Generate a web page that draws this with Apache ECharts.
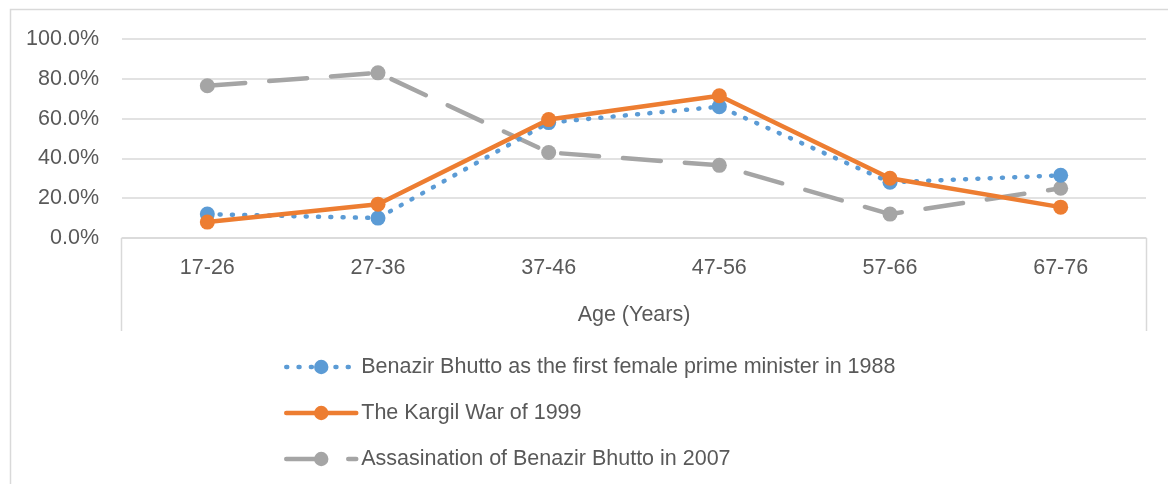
<!DOCTYPE html>
<html>
<head>
<meta charset="utf-8">
<script src="https://cdn.jsdelivr.net/npm/echarts@6/dist/echarts.min.js"></script>
<style>html,body{margin:0;padding:0;background:#fff}#c{width:1168px;height:484px}</style>
</head>
<body>
<div id="c"></div>
<script>
const categories = ['17-26', '27-36', '37-46', '47-56', '57-66', '67-76'];
const benazirPM1988 = [12, 10, 58, 66, 28, 31.5];
const kargilWar1999 = [8, 17, 59.5, 71.5, 30, 15.5];
const assassination2007 = [76.5, 83, 43, 36.5, 12, 25];
const seriesNames = [
  'Benazir Bhutto as the first female prime minister in 1988',
  'The Kargil War of 1999',
  'Assasination of Benazir Bhutto in 2007'
];
const xAxisTitle = 'Age (Years)';

const FONT = "'Liberation Sans', Arial, sans-serif";
const FS = 21.5;
const TXT = '#595959';
const BLUE = '#5B9BD5', ORANGE = '#ED7D31', GRAY = '#A5A5A5';
const styles = [
  {color: BLUE, width: 4.5, type: [1, 11.3], cap: 'round'},
  {color: ORANGE, width: 4.5, type: 'solid', cap: 'round'},
  {color: GRAY, width: 4.5, type: [38, 24], cap: 'round'}
];
const chart = echarts.init(document.getElementById('c'), null, {renderer: 'canvas'});
chart.setOption({
  animation: false,
  backgroundColor: '#fff',
  textStyle: {fontFamily: FONT, color: TXT},
  grid: {left: 122, right: 22, top: 39, bottom: 246},
  legend: {
    orient: 'vertical', left: 279, top: 351,
    itemWidth: 70, itemHeight: 18, itemGap: 24,
    textStyle: {fontFamily: FONT, fontSize: FS, color: TXT, padding: [0, 0, 0, 0]},
    data: seriesNames.map((n, i) => ({name: n, lineStyle: styles[i]}))
  },
  graphic: [
    {type: 'rect', silent: true, shape: {x: 10.5, y: 9.5, width: 1300, height: 600},
     style: {fill: 'none', stroke: '#D9D9D9', lineWidth: 1.5}},
    {type: 'polyline', silent: true, shape: {points: [[121.5, 238], [121.5, 331]]},
     style: {stroke: '#D9D9D9', lineWidth: 1.5}},
    {type: 'polyline', silent: true, shape: {points: [[1146.5, 238], [1146.5, 331]]},
     style: {stroke: '#D9D9D9', lineWidth: 1.5}}
  ],
  xAxis: {
    type: 'category', data: categories, boundaryGap: true,
    axisLine: {show: true, lineStyle: {color: '#D9D9D9', width: 1.5}},
    axisTick: {show: false},
    axisLabel: {fontSize: FS, color: TXT, margin: 19, fontFamily: FONT},
    name: xAxisTitle, nameLocation: 'middle', nameGap: 66,
    nameTextStyle: {fontSize: FS, color: TXT, fontFamily: FONT}
  },
  yAxis: {
    type: 'value', min: 0, max: 100, interval: 20,
    axisLine: {show: false}, axisTick: {show: false},
    axisLabel: {fontSize: FS, color: TXT, margin: 23, fontFamily: FONT,
      formatter: v => v.toFixed(1) + '%'},
    splitLine: {lineStyle: {color: '#D9D9D9', width: 1.5}}
  },
  series: [
    {
      name: seriesNames[0], type: 'line', data: benazirPM1988,
      symbol: 'circle', symbolSize: 15, z: 3,
      itemStyle: {color: BLUE}, lineStyle: styles[0]
    },
    {
      name: seriesNames[1], type: 'line', data: kargilWar1999,
      symbol: 'circle', symbolSize: 15, z: 4,
      itemStyle: {color: ORANGE}, lineStyle: styles[1]
    },
    {
      name: seriesNames[2], type: 'line', data: assassination2007,
      symbol: 'circle', symbolSize: 15, z: 2,
      itemStyle: {color: GRAY}, lineStyle: styles[2]
    }
  ]
});
</script>
</body>
</html>
